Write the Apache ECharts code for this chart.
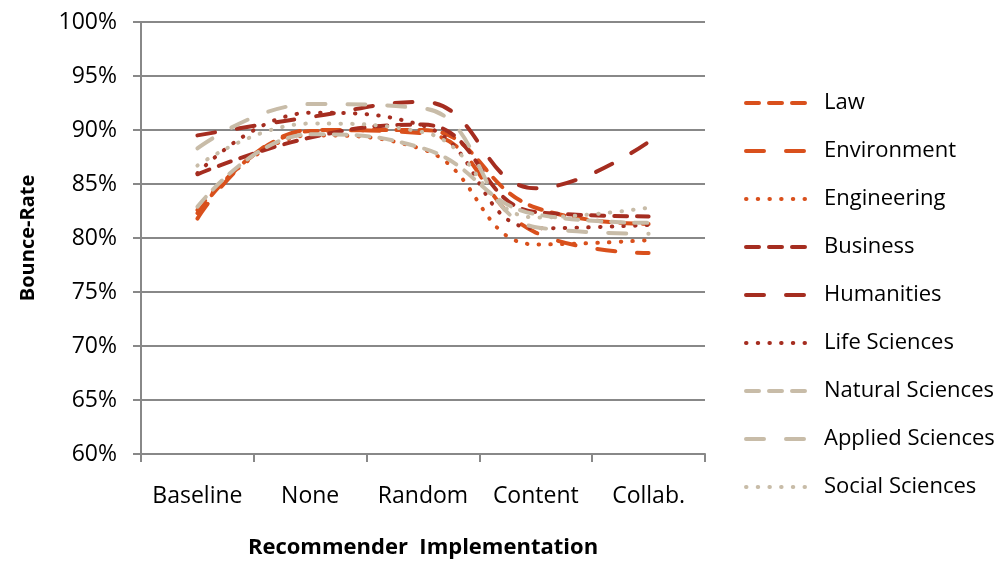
<!DOCTYPE html>
<html>
<head>
<meta charset="utf-8">
<script src="https://cdn.jsdelivr.net/npm/echarts@6/dist/echarts.min.js"></script>
<style>html,body{margin:0;padding:0;background:#fff;}#c{width:1003px;height:563px;}</style>
</head>
<body>
<div id="c"></div>
<script>
const categories = ['Baseline', 'None', 'Random', 'Content', 'Collab.'];
const yTicks = [60, 65, 70, 75, 80, 85, 90, 95, 100];
const law = [82.3, 89.9, 90.0, 82.8, 81.3];
const environment = [81.8, 90.0, 89.7, 80.5, 78.6];
const engineering = [82.6, 89.5, 88.2, 79.4, 79.8];
const business = [85.9, 89.3, 90.5, 82.4, 82.0];
const humanities = [89.5, 91.2, 92.6, 84.6, 88.9];
const lifeSciences = [86.0, 91.6, 90.4, 80.9, 81.2];
const naturalSciences = [82.9, 89.6, 88.3, 82.2, 81.4];
const appliedSciences = [88.3, 92.4, 92.0, 81.0, 80.4];
const socialSciences = [86.7, 90.6, 89.8, 81.9, 82.8];

const ORANGE = '#d9501c', DARKRED = '#a52d20', BEIGE = '#c8bca8';
const SHORT = [13, 10], LONG = [18, 22], DOT = [0.5, 11.2];

function mk(name, data, color, dash) {
  return {
    name: name, type: 'line', data: data, smooth: 0.45, symbol: 'none',
    lineStyle: { color: color, width: 4, type: dash, cap: 'round' },
    itemStyle: { color: color }
  };
}
const series = [
  mk('Law', law, ORANGE, SHORT),
  mk('Environment', environment, ORANGE, LONG),
  mk('Engineering', engineering, ORANGE, DOT),
  mk('Business', business, DARKRED, SHORT),
  mk('Humanities', humanities, DARKRED, LONG),
  mk('Life Sciences', lifeSciences, DARKRED, DOT),
  mk('Natural Sciences', naturalSciences, BEIGE, SHORT),
  mk('Applied Sciences', appliedSciences, BEIGE, LONG),
  mk('Social Sciences', socialSciences, BEIGE, DOT)
];

const FONT = 'Open Sans';
const chart = echarts.init(document.getElementById('c'), null, { renderer: 'canvas' });
chart.setOption({
  animation: false,
  backgroundColor: '#fff',
  textStyle: { fontFamily: FONT },
  grid: { left: 141, right: 298, top: 22, bottom: 109, outerBoundsMode: 'none', containLabel: false },
  legend: {
    orient: 'vertical', left: 744, top: 92, padding: 0,
    itemWidth: 62, itemHeight: 14, itemGap: 26,
    itemStyle: { opacity: 0 },
    lineStyle: { width: 4, cap: 'round' },
    textStyle: { fontFamily: FONT, fontSize: 22, color: '#000', padding: [0, 0, 0, 11] },
    data: series.map(s => s.name)
  },
  xAxis: {
    type: 'category', data: categories, boundaryGap: true,
    name: 'Recommender  Implementation', nameLocation: 'middle', nameGap: 83,
    nameTextStyle: { fontFamily: FONT, fontSize: 22, fontWeight: 'bold', color: '#000' },
    axisLine: { lineStyle: { color: '#888', width: 2 } },
    axisTick: { show: true, interval: 0, length: 8, lineStyle: { color: '#888', width: 2 } },
    axisLabel: { interval: 0, fontFamily: FONT, fontSize: 23, color: '#000', margin: 31 }
  },
  yAxis: {
    type: 'value', min: yTicks[0], max: yTicks[yTicks.length - 1], interval: 5,
    name: 'Bounce-Rate', nameLocation: 'middle', nameGap: 103, nameRotate: 90,
    nameTextStyle: { fontFamily: FONT, fontSize: 20, fontWeight: 'bold', color: '#000' },
    axisLine: { show: true, lineStyle: { color: '#888', width: 2 } },
    axisTick: { show: true, length: 8, lineStyle: { color: '#888', width: 2 } },
    axisLabel: { fontFamily: FONT, fontSize: 23, color: '#000', margin: 24, formatter: '{value}%' },
    splitLine: { show: true, lineStyle: { color: '#888', width: 2 } }
  },
  series: series
});
</script>
</body>
</html>
